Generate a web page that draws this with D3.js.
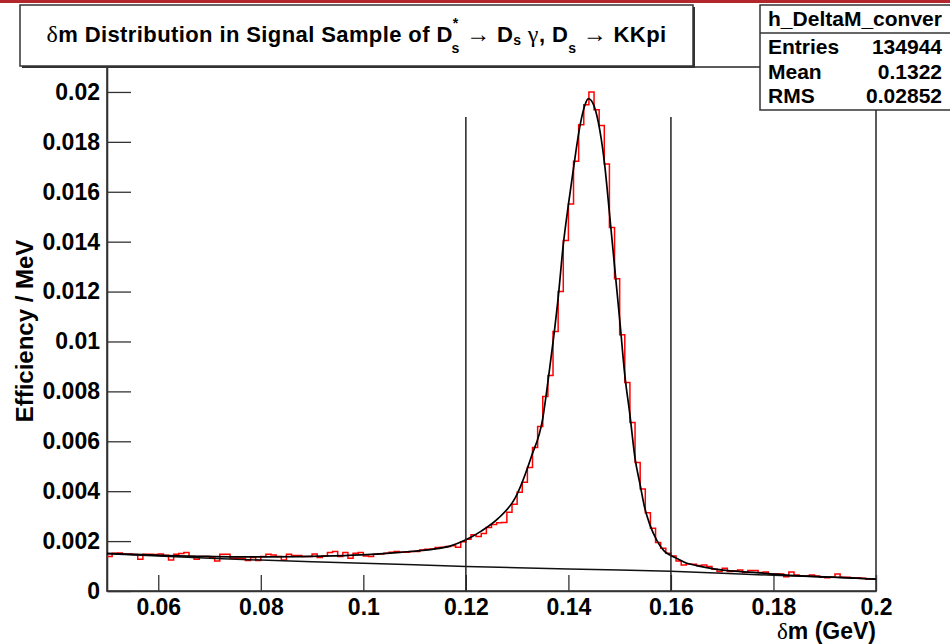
<!DOCTYPE html>
<html>
<head>
<meta charset="utf-8">
<script src="https://cdn.jsdelivr.net/npm/d3@7"></script>
<style>
body { margin: 0; background: #fff; }
svg { display: block; font-family: "Liberation Sans", Arial, sans-serif; font-weight: bold; }
</style>
</head>
<body>
<script>
// histogram: 150 bins of 1 MeV from 0.05 to 0.2 GeV
const binLow = 0.05
const binWidth = 0.001
const binValues = [
    0.00138, 0.00151, 0.00152, 0.00147, 0.00148, 0.00146, 0.00127, 0.00147, 0.00147, 0.00146,
    0.00148, 0.00143, 0.00124, 0.00147, 0.00150, 0.00154, 0.00138, 0.00127, 0.00138, 0.00138,
    0.00135, 0.00120, 0.00147, 0.00147, 0.00131, 0.00131, 0.00131, 0.00122, 0.00134, 0.00122,
    0.00138, 0.00147, 0.00144, 0.00138, 0.00124, 0.00147, 0.00142, 0.00142, 0.00138, 0.00138,
    0.00148, 0.00134, 0.00140, 0.00154, 0.00158, 0.00138, 0.00154, 0.00131, 0.00151, 0.00154,
    0.00140, 0.00138, 0.00147, 0.00148, 0.00151, 0.00155, 0.00158, 0.00155, 0.00155, 0.00158,
    0.00158, 0.00164, 0.00167, 0.00168, 0.00174, 0.00175, 0.00178, 0.00181, 0.00175, 0.00197,
    0.00207, 0.00225, 0.00218, 0.00230, 0.00254, 0.00267, 0.00274, 0.00275, 0.00316, 0.00348,
    0.00396, 0.00436, 0.00495, 0.00575, 0.00659, 0.00779, 0.00864, 0.01040, 0.01200, 0.01405,
    0.01551, 0.01722, 0.01869, 0.01949, 0.02000, 0.01929, 0.01866, 0.01711, 0.01457, 0.01251,
    0.01027, 0.00836, 0.00675, 0.00515, 0.00409, 0.00314, 0.00251, 0.00194, 0.00171, 0.00151,
    0.00140, 0.00120, 0.00104, 0.00108, 0.00107, 0.00102, 0.00104, 0.00098, 0.00087, 0.00078,
    0.00091, 0.00078, 0.00080, 0.00084, 0.00074, 0.00082, 0.00082, 0.00074, 0.00076, 0.00068,
    0.00068, 0.00068, 0.00057, 0.00076, 0.00064, 0.00060, 0.00060, 0.00064, 0.00060, 0.00055,
    0.00053, 0.00055, 0.00068, 0.00055, 0.00055, 0.00053, 0.00053, 0.00051, 0.00047, 0.00047
]

// fit curve (signal + background)
const fitX = [0.0500, 0.0551, 0.0616, 0.0681, 0.0746, 0.0812, 0.0876, 0.0941, 0.1007, 0.1072,
    0.1137, 0.1169, 0.1198, 0.1230, 0.1263, 0.1296, 0.1328, 0.1350, 0.1361, 0.1371,
    0.1380, 0.1390, 0.1400, 0.1410, 0.1423, 0.1432, 0.1439, 0.1449, 0.1458, 0.1470,
    0.1481, 0.1491, 0.1501, 0.1510, 0.1520, 0.1530, 0.1540, 0.1549, 0.1559, 0.1572,
    0.1588, 0.1598, 0.1611, 0.1631, 0.1650, 0.1670, 0.1702, 0.1735, 0.1767, 0.1800,
    0.1832, 0.1865, 0.1897, 0.1930, 0.1962, 0.2000]
const fitY = [0.00151, 0.00147, 0.00142, 0.00139, 0.00137, 0.00137, 0.00138, 0.00141, 0.00146, 0.00155,
    0.00168, 0.00180, 0.00203, 0.00240, 0.00291, 0.00372, 0.00540, 0.00692, 0.00853, 0.01013,
    0.01174, 0.01388, 0.01548, 0.01695, 0.01869, 0.01946, 0.01973, 0.01949, 0.01882, 0.01722,
    0.01495, 0.01281, 0.01067, 0.00866, 0.00706, 0.00532, 0.00425, 0.00332, 0.00265, 0.00205,
    0.00158, 0.00144, 0.00131, 0.00111, 0.00102, 0.00094, 0.00084, 0.00078, 0.00074, 0.00068,
    0.00063, 0.00060, 0.00057, 0.00055, 0.00051, 0.00047]

// background component
const bkgX = [0.05, 0.06, 0.07, 0.08, 0.09, 0.10, 0.11, 0.12, 0.13, 0.14, 0.15, 0.16, 0.17, 0.18, 0.19, 0.20]
const bkgY = [0.00149, 0.00140, 0.00131, 0.00124, 0.00117, 0.00111, 0.00105, 0.00098, 0.00093, 0.00088,
    0.00084, 0.00079, 0.00071, 0.00063, 0.00056, 0.00048]

const cutValues = [0.12, 0.16]
const cutTop = 0.019

const xTicks = [0.06, 0.08, 0.10, 0.12, 0.14, 0.16, 0.18, 0.20]
const xTickLabels = ['0.06', '0.08', '0.1', '0.12', '0.14', '0.16', '0.18', '0.2']
const yTicks = [0, 0.002, 0.004, 0.006, 0.008, 0.010, 0.012, 0.014, 0.016, 0.018, 0.020]
const yTickLabels = ['0', '0.002', '0.004', '0.006', '0.008', '0.01', '0.012', '0.014', '0.016', '0.018', '0.02']

const histName = 'h_DeltaM_conver'
const statNames = ['Entries', 'Mean', 'RMS']
const statValues = ['134944', '0.1322', '0.02852']

const [width, height] = [950, 644]
const frame = {left: 107, right: 876, top: 67, bottom: 591}

const svg = d3.select('body').append('svg')
    .attr('width', width)
    .attr('height', height)

// red strip at the very top
svg.append('rect')
    .attr('x', 0).attr('y', 0)
    .attr('width', width).attr('height', 3)
    .attr('fill', '#b3262b')

const x = d3.scaleLinear().domain([0.05, 0.2]).range([frame.left, frame.right])
const y = d3.scaleLinear().domain([0, 0.021]).range([frame.bottom, frame.top])

// frame
svg.append('rect')
    .attr('x', frame.left).attr('y', frame.top)
    .attr('width', frame.right - frame.left).attr('height', frame.bottom - frame.top)
    .attr('fill', 'none')
    .attr('stroke', '#333')
    .attr('stroke-width', 1.6)

// axes, ticks point inward like in ROOT
const gx = svg.append('g').attr('transform', `translate(0,${frame.bottom})`)
gx.call(d3.axisBottom(x).tickValues(d3.range(0.05, 0.2001, 0.005)).tickFormat('').tickSizeInner(-9).tickSizeOuter(0))
gx.call(d3.axisBottom(x).tickValues(xTicks).tickFormat((d, i) => xTickLabels[i]).tickSizeInner(-16).tickSizeOuter(0).tickPadding(8))

const gy = svg.append('g').attr('transform', `translate(${frame.left},0)`)
gy.call(d3.axisLeft(y).tickValues(d3.range(0, 0.02101, 0.0005)).tickFormat('').tickSizeInner(-11).tickSizeOuter(0))
gy.call(d3.axisLeft(y).tickValues(yTicks).tickFormat((d, i) => yTickLabels[i]).tickSizeInner(-24).tickSizeOuter(0).tickPadding(7))

svg.selectAll('.domain').attr('stroke', '#333').attr('stroke-width', 1.6)
svg.selectAll('.tick line').attr('stroke', '#333').attr('stroke-width', 1.3)
svg.selectAll('.tick text')
    .attr('font-family', '"Liberation Sans", Arial, sans-serif')
    .attr('font-weight', 'bold')
    .attr('font-size', 23)
    .attr('fill', '#000')

// histogram outline
const histPoints = binValues.map((v, i) => [binLow + i * binWidth, v])
histPoints.push([binLow + binValues.length * binWidth, binValues[binValues.length - 1]])

svg.append('path')
    .datum(histPoints)
    .attr('fill', 'none')
    .attr('stroke', '#ff0000')
    .attr('stroke-width', 1.5)
    .attr('d', d3.line().x(d => x(d[0])).y(d => y(d[1])).curve(d3.curveStepAfter))

// background and total fit
svg.append('path')
    .datum(bkgX.map((v, i) => [v, bkgY[i]]))
    .attr('fill', 'none')
    .attr('stroke', '#111')
    .attr('stroke-width', 1.5)
    .attr('d', d3.line().x(d => x(d[0])).y(d => y(d[1])))

svg.append('path')
    .datum(fitX.map((v, i) => [v, fitY[i]]))
    .attr('fill', 'none')
    .attr('stroke', '#000')
    .attr('stroke-width', 1.7)
    .attr('d', d3.line().x(d => x(d[0])).y(d => y(d[1])).curve(d3.curveMonotoneX))

// signal window
svg.append('g').selectAll('line')
    .data(cutValues)
    .enter()
    .append('line')
        .attr('x1', d => x(d)).attr('x2', d => x(d))
        .attr('y1', y(0)).attr('y2', y(cutTop))
        .attr('stroke', '#222')
        .attr('stroke-width', 1.5)

// axis titles
svg.append('text')
    .attr('x', frame.right).attr('y', 639)
    .attr('text-anchor', 'end')
    .attr('font-size', 23)
    .call(t => {
        t.append('tspan').attr('font-family', '"Liberation Serif", serif').attr('font-weight', 'normal').text('δ')
        t.append('tspan').text('m (GeV)')
    })

svg.append('text')
    .attr('transform', 'translate(33,331) rotate(-90)')
    .attr('text-anchor', 'middle')
    .attr('font-size', 24)
    .text('Efficiency / MeV')

// title box
const titleBox = {x: 20, y: 5, w: 673, h: 61}
svg.append('rect')
    .attr('x', titleBox.x + 2).attr('y', titleBox.y + 2)
    .attr('width', titleBox.w).attr('height', titleBox.h)
    .attr('fill', '#333')
svg.append('rect')
    .attr('x', titleBox.x).attr('y', titleBox.y)
    .attr('width', titleBox.w).attr('height', titleBox.h)
    .attr('fill', '#fff')
    .attr('stroke', '#333')
    .attr('stroke-width', 1.5)

const sym = t => t.attr('font-family', '"Liberation Serif", serif').attr('font-weight', 'normal')
svg.append('text')
    .attr('x', titleBox.x + titleBox.w / 2).attr('y', 42)
    .attr('text-anchor', 'middle')
    .attr('font-size', 22)
    .attr('letter-spacing', 0.4)
    .call(t => {
        t.append('tspan').call(sym).attr('font-size', 24).text('δ')
        t.append('tspan').text('m Distribution in Signal Sample of D')
        t.append('tspan').attr('font-size', 14).attr('dy', -14).text('*')
        t.append('tspan').attr('font-size', 14).attr('dx', -7).attr('dy', 25).text('s')
        t.append('tspan').call(sym).attr('font-size', 24).attr('dy', -11).text(' → ')
        t.append('tspan').text('D')
        t.append('tspan').attr('font-size', 14).attr('dy', 3).text('s')
        t.append('tspan').call(sym).attr('font-size', 24).attr('dy', -3).text(' γ')
        t.append('tspan').text(', D')
        t.append('tspan').attr('font-size', 14).attr('dy', 11).text('s')
        t.append('tspan').call(sym).attr('font-size', 24).attr('dy', -11).text(' → ')
        t.append('tspan').text('KKpi')
    })

// stats box
const statsBox = {x: 760, y: 5, w: 195, h: 105}
svg.append('rect')
    .attr('x', statsBox.x).attr('y', statsBox.y)
    .attr('width', statsBox.w).attr('height', statsBox.h)
    .attr('fill', '#fff')
    .attr('stroke', '#333')
    .attr('stroke-width', 1.5)
svg.append('line')
    .attr('x1', statsBox.x).attr('x2', statsBox.x + statsBox.w)
    .attr('y1', 33).attr('y2', 33)
    .attr('stroke', '#333')
    .attr('stroke-width', 1.3)
svg.append('text')
    .attr('x', 855).attr('y', 26)
    .attr('text-anchor', 'middle')
    .attr('font-size', 21)
    .text(histName)

const rowY = [54, 79, 103]
svg.append('g').selectAll('text')
    .data(statNames)
    .enter()
    .append('text')
        .attr('x', 768).attr('y', (d, i) => rowY[i])
        .attr('font-size', 21)
        .text(d => d)
svg.append('g').selectAll('text')
    .data(statValues)
    .enter()
    .append('text')
        .attr('x', 942).attr('y', (d, i) => rowY[i])
        .attr('text-anchor', 'end')
        .attr('font-size', 21)
        .text(d => d)
</script>
</body>
</html>
